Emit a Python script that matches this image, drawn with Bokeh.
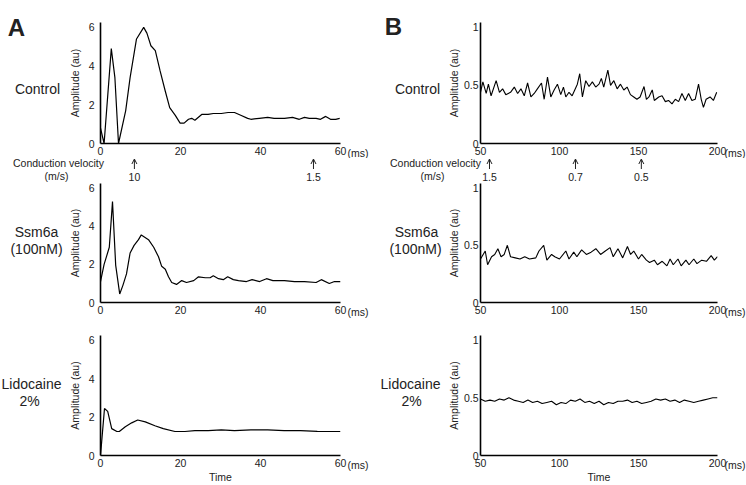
from bokeh.plotting import figure
from bokeh.models import Range1d, Label, FixedTicker, Arrow, OpenHead
from bokeh.layouts import column, row
from bokeh.embed import file_html
from bokeh.resources import INLINE

FONT = "Liberation Sans"

# ---------------- data ----------------
# Panel A (0-60 ms)
a_ctrl_t = [0, 0.9, 2.7, 3.6, 4.5, 6.3, 7.4, 9.0, 10.8, 11.6, 12.6, 13.7, 14.9, 16.2, 17.3, 18.7, 19.9,
            20.9, 22.0, 22.8, 23.6, 25.3, 26.9, 28.2, 30.2, 31.9, 33.5, 35.2, 36.8, 37.6, 39.7, 41.8,
            43.4, 46.0, 48.0, 49.7, 51.0, 52.2, 53.9, 55.0, 56.3, 57.5, 58.8, 59.8]
a_ctrl_v = [0.8, 0.0, 4.9, 3.4, 0.0, 1.7, 3.4, 5.4, 6.0, 5.7, 5.05, 4.8, 3.75, 2.7, 1.85, 1.45, 1.05,
            1.05, 1.25, 1.3, 1.2, 1.5, 1.5, 1.55, 1.55, 1.6, 1.6, 1.45, 1.3, 1.25, 1.3, 1.35,
            1.3, 1.3, 1.35, 1.25, 1.35, 1.3, 1.3, 1.25, 1.4, 1.25, 1.25, 1.3]

a_ssm_t = [0, 0.9, 2.2, 3.0, 3.8, 4.8, 5.6, 6.5, 7.4, 8.4, 9.5, 10.2, 12.0, 13.3, 14.5, 15.3, 16.2, 17.0,
           17.8, 19.0, 20.3, 21.5, 23.3, 24.5, 26.2, 27.4, 28.2, 29.5, 30.7, 31.8, 33.2, 34.5, 36.5,
           37.9, 39.8, 41.5, 43.1, 46.0, 48.5, 51.0, 53.9, 55.2, 57.2, 58.5, 60.0]
a_ssm_v = [1.1, 2.0, 2.9, 5.3, 1.95, 0.45, 0.9, 1.5, 2.6, 3.0, 3.3, 3.55, 3.3, 2.9, 2.4, 1.9, 1.75, 1.35,
           1.05, 0.95, 1.15, 1.05, 1.15, 1.35, 1.3, 1.3, 1.4, 1.25, 1.2, 1.35, 1.2, 1.15, 1.1,
           1.2, 1.1, 1.25, 1.15, 1.15, 1.1, 1.1, 1.05, 1.2, 1.0, 1.1, 1.1]

a_lido_t = [0, 1.0, 1.8, 2.8, 4.1, 4.7, 6.2, 7.8, 9.3, 11.2, 13.6, 15.7, 18.6, 21.1, 23.6, 26.9, 30.2,
            33.5, 37.6, 41.8, 45.9, 50.0, 54.2, 60.0]
a_lido_v = [0.0, 2.45, 2.3, 1.4, 1.25, 1.25, 1.5, 1.7, 1.85, 1.75, 1.55, 1.4, 1.25, 1.25, 1.3, 1.3, 1.33,
            1.3, 1.33, 1.33, 1.3, 1.3, 1.26, 1.25]

# Panel B (50-200 ms)
b_ctrl_t = [50, 51.5, 53.6, 55, 56.7, 59.9, 62, 64, 66, 69, 71.4, 73.5, 75.6, 77.7, 79.8, 81.9, 84, 86,
            88.6, 90.3, 92.4, 94.5, 96.6, 98.7, 100.8, 102.5, 104, 106, 108, 111.3, 112.8, 114.5,
            116.6, 118.7, 120.8, 122.9, 125, 126.5, 128, 130.6, 132.3, 134.4, 136.5, 138.6, 140.7,
            142.8, 144.9, 147, 149, 151, 153.5, 155, 156.6, 158.7, 160, 162.8, 164.9, 167, 169,
            171.2, 173.3, 175.4, 177.5, 179.6, 181.7, 183.8, 185.9, 188, 189.7, 191.1, 192.8,
            195.3, 197.4, 199.5]
b_ctrl_v = [0.44, 0.53, 0.43, 0.51, 0.41, 0.54, 0.44, 0.47, 0.42, 0.44, 0.485, 0.43, 0.47, 0.41, 0.52,
            0.40, 0.43, 0.47, 0.52, 0.38, 0.57, 0.40, 0.46, 0.51, 0.42, 0.485, 0.40, 0.44, 0.41,
            0.51, 0.60, 0.40, 0.54, 0.49, 0.53, 0.485, 0.51, 0.56, 0.485, 0.63, 0.50, 0.54, 0.47,
            0.51, 0.46, 0.485, 0.42, 0.40, 0.38, 0.40, 0.49, 0.38, 0.40, 0.46, 0.37, 0.40, 0.41,
            0.36, 0.37, 0.34, 0.38, 0.36, 0.43, 0.37, 0.43, 0.37, 0.38, 0.51, 0.38, 0.31, 0.38,
            0.40, 0.37, 0.44]

b_ssm_t = [50, 53, 54.5, 57, 59, 61, 63, 65, 67, 69, 72, 75, 78, 81, 85, 87, 90, 92, 95, 97, 100, 104,
           106, 109, 111, 114, 117, 120, 123, 126, 129, 132, 134, 137, 140, 143, 145, 147, 150, 152,
           155, 157, 160, 162, 165, 168, 170, 172, 175, 177, 180, 182, 185, 187, 190, 193, 196,
           198, 200]
b_ssm_v = [0.38, 0.45, 0.33, 0.40, 0.42, 0.47, 0.40, 0.42, 0.50, 0.40, 0.39, 0.38, 0.40, 0.38, 0.39,
           0.45, 0.50, 0.37, 0.42, 0.40, 0.38, 0.45, 0.38, 0.44, 0.40, 0.46, 0.42, 0.44, 0.47, 0.42,
           0.45, 0.48, 0.40, 0.47, 0.39, 0.49, 0.42, 0.45, 0.38, 0.42, 0.37, 0.35, 0.37, 0.33, 0.36,
           0.32, 0.38, 0.33, 0.38, 0.32, 0.37, 0.33, 0.38, 0.34, 0.37, 0.36, 0.41, 0.37, 0.40]

b_lido_t = [50, 53, 56, 59, 62, 65, 68, 71, 74, 77, 80, 83, 86, 89, 92, 95, 98, 101, 104, 107, 110,
            113, 116, 119, 122, 125, 128, 131, 134, 137, 140, 143, 146, 149, 152, 155, 158, 161,
            164, 167, 170, 173, 176, 179, 182, 185, 188, 191, 194, 197, 200]
b_lido_v = [0.49, 0.47, 0.48, 0.47, 0.49, 0.48, 0.50, 0.48, 0.47, 0.46, 0.48, 0.46, 0.47, 0.45, 0.46,
            0.47, 0.44, 0.46, 0.45, 0.48, 0.47, 0.49, 0.46, 0.47, 0.45, 0.47, 0.44, 0.46, 0.45, 0.47,
            0.47, 0.48, 0.46, 0.47, 0.45, 0.46, 0.47, 0.49, 0.48, 0.49, 0.47, 0.48, 0.46, 0.48,
            0.47, 0.46, 0.47, 0.48, 0.49, 0.50, 0.50]

a_xticks = [0, 20, 40, 60]
a_yticks = [0, 2, 4, 6]
b_xticks = [50, 100, 150, 200]
b_yticks = [0, 0.5, 1]
b_ylabels = {0: "0", 0.5: "0.5", 1: "1"}

row_names = [["Control"], ["Ssm6a", "(100nM)"], ["Lidocaine", "2%"]]

cv_a_t = [8.9, 53.3]
cv_a_lab = ["10", "1.5"]
cv_b_t = [56.3, 110.5, 152.0]
cv_b_lab = ["1.5", "0.7", "0.5"]

# ---------------- layout geometry (page px) ----------------
FS = "10.5px"
INK = "#222222"
COLS = {  # label strip x0, panel x0, frame left, frame right, panel x1
    "A": (0, 65, 98, 340, 378),
    "B": (378, 444, 479, 717, 746),
}
ROWS = [  # canvas top, frame top, frame bottom, canvas bottom
    (0, 22, 143, 158),
    (182, 183, 302, 318),
    (318, 335, 455, 485),
]
STRIP = (158, 182)


def blank_fig(x0, x1, y0, y1, xr):
    p = figure(width=x1 - x0, height=y1 - y0, x_range=Range1d(*xr), y_range=Range1d(y1, y0),
               output_backend="svg", toolbar_location=None, title_location=None,
               x_axis_location=None, y_axis_location=None, frame_align=False,
               min_border_left=0, min_border_right=0, min_border_top=0, min_border_bottom=0)
    p.outline_line_color = None
    p.xgrid.visible = False
    p.ygrid.visible = False
    p.background_fill_color = "white"
    p.border_fill_color = "white"
    return p


def add_text(p, x, y, s, size=FS, align="center", bold=False):
    p.add_layout(Label(x=x, y=y, text=s, text_font=FONT, text_font_size=size,
                       text_align=align, text_baseline="middle", text_color=INK,
                       text_font_style="bold" if bold else "normal"))


def panel_fig(col, r, xr, yr, xticks, yticks, ylab_over=None, xlabel=None):
    lx0, px0, fl, fr, px1 = COLS[col]
    ct, ft, fb, cb = ROWS[r]
    p = figure(width=px1 - px0, height=cb - ct, x_range=Range1d(*xr), y_range=Range1d(*yr),
               output_backend="svg", toolbar_location=None,
               min_border_left=fl - px0, min_border_right=px1 - fr,
               min_border_top=ft - ct, min_border_bottom=cb - fb)
    p.outline_line_color = None
    p.xgrid.visible = False
    p.ygrid.visible = False
    p.background_fill_color = "white"
    p.border_fill_color = "white"
    for ax in (p.xaxis[0], p.yaxis[0]):
        ax.axis_line_width = 1.6
        ax.axis_line_color = "black"
        ax.major_tick_out = 0
        ax.major_tick_in = 0
        ax.minor_tick_out = 0
        ax.minor_tick_in = 0
        ax.major_label_text_font = FONT
        ax.major_label_text_font_size = FS
        ax.major_label_text_color = INK
        ax.axis_label_text_font = FONT
        ax.axis_label_text_font_size = FS
        ax.axis_label_text_font_style = "normal"
        ax.axis_label_text_color = INK
    p.xaxis.ticker = FixedTicker(ticks=xticks)
    p.yaxis.ticker = FixedTicker(ticks=yticks)
    if ylab_over:
        p.yaxis.major_label_overrides = ylab_over
    p.xaxis.major_label_standoff = 3
    p.yaxis.major_label_standoff = 6 if col == "A" else 2
    p.yaxis.axis_label = "Amplitude (au)"
    p.yaxis.axis_label_standoff = 5 if col == "A" else 1
    if xlabel:
        p.xaxis.axis_label = xlabel
        p.xaxis.axis_label_standoff = 1
    # unit "(ms)" after the last x tick label (right side panel, data units)
    ys = (yr[1] - yr[0]) / (fb - ft)
    p.add_layout(Label(x=xr[1], y=yr[0] - 9.5 * ys, x_offset=7, text="(ms)", text_font=FONT,
                       text_font_size=FS, text_align="left", text_baseline="middle",
                       text_color=INK), "right")
    return p


def strip_fig(col, xr_data, cv_t, cv_lab, cv_x, mps_x):
    lx0, px0, fl, fr, px1 = COLS[col]
    s = (xr_data[1] - xr_data[0]) / (fr - fl)
    xr = (xr_data[0] + (lx0 - fl) * s, xr_data[0] + (px1 - fl) * s)
    p = blank_fig(lx0, px1, STRIP[0], STRIP[1], xr)
    add_text(p, xr_data[0] + (cv_x - fl) * s, 162.5, "Conduction velocity")
    add_text(p, xr_data[0] + (mps_x - fl) * s, 175.5, "(m/s)")
    for t, lab in zip(cv_t, cv_lab):
        p.add_layout(Arrow(x_start=t, y_start=168.5, x_end=t, y_end=158.5,
                           line_color=INK, line_width=1,
                           end=OpenHead(size=5, line_color=INK, line_width=1)))
        add_text(p, t, 176, lab)
    return p


def label_fig(col, r, items):
    lx0, px0 = COLS[col][0], COLS[col][1]
    ct, cb = ROWS[r][0], ROWS[r][3]
    p = blank_fig(lx0, px0, ct, cb, (lx0, px0))
    for (x, y, s, size, bold) in items:
        add_text(p, x, y, s, size=size, bold=bold)
    return p


# ---- Column A ----
pa1 = panel_fig("A", 0, (0, 60), (0, 6.25), a_xticks, a_yticks)
pa1.line(a_ctrl_t, a_ctrl_v, line_color="black", line_width=1.2)
pa2 = panel_fig("A", 1, (0, 60), (0, 6.25), a_xticks, a_yticks)
pa2.line(a_ssm_t, a_ssm_v, line_color="black", line_width=1.2)
pa3 = panel_fig("A", 2, (0, 60), (0, 6.25), a_xticks, a_yticks, xlabel="Time")
pa3.line(a_lido_t, a_lido_v, line_color="black", line_width=1.2)

la1 = label_fig("A", 0, [(16, 27, "A", "24px", True), (37, 88, row_names[0][0], "14px", False)])
la2 = label_fig("A", 1, [(36, 231, row_names[1][0], "14px", False),
                         (36, 248, row_names[1][1], "14px", False)])
la3 = label_fig("A", 2, [(31, 383, row_names[2][0], "14px", False),
                         (29, 400, row_names[2][1], "14px", False)])
sa = strip_fig("A", (0, 60), cv_a_t, cv_a_lab, 58, 56)

col_a = column(row(la1, pa1), sa, row(la2, pa2), row(la3, pa3))

# ---- Column B ----
pb1 = panel_fig("B", 0, (50, 200), (0, 1.04), b_xticks, b_yticks, b_ylabels)
pb1.line(b_ctrl_t, b_ctrl_v, line_color="black", line_width=1.1)
pb2 = panel_fig("B", 1, (50, 200), (0, 1.04), b_xticks, b_yticks, b_ylabels)
pb2.line(b_ssm_t, b_ssm_v, line_color="black", line_width=1.1)
pb3 = panel_fig("B", 2, (50, 200), (0, 1.04), b_xticks, b_yticks, b_ylabels, xlabel="Time")
pb3.line(b_lido_t, b_lido_v, line_color="black", line_width=1.1)

lb1 = label_fig("B", 0, [(393, 26, "B", "24px", True), (417, 88, row_names[0][0], "14px", False)])
lb2 = label_fig("B", 1, [(416, 231, row_names[1][0], "14px", False),
                         (415, 248, row_names[1][1], "14px", False)])
lb3 = label_fig("B", 2, [(410, 383, row_names[2][0], "14px", False),
                         (411, 400, row_names[2][1], "14px", False)])
sb = strip_fig("B", (50, 200), cv_b_t, cv_b_lab, 435, 432)

col_b = column(row(lb1, pb1), sb, row(lb2, pb2), row(lb3, pb3))

layout = row(col_a, col_b)

open("out.html", "w").write(file_html(layout, INLINE))
